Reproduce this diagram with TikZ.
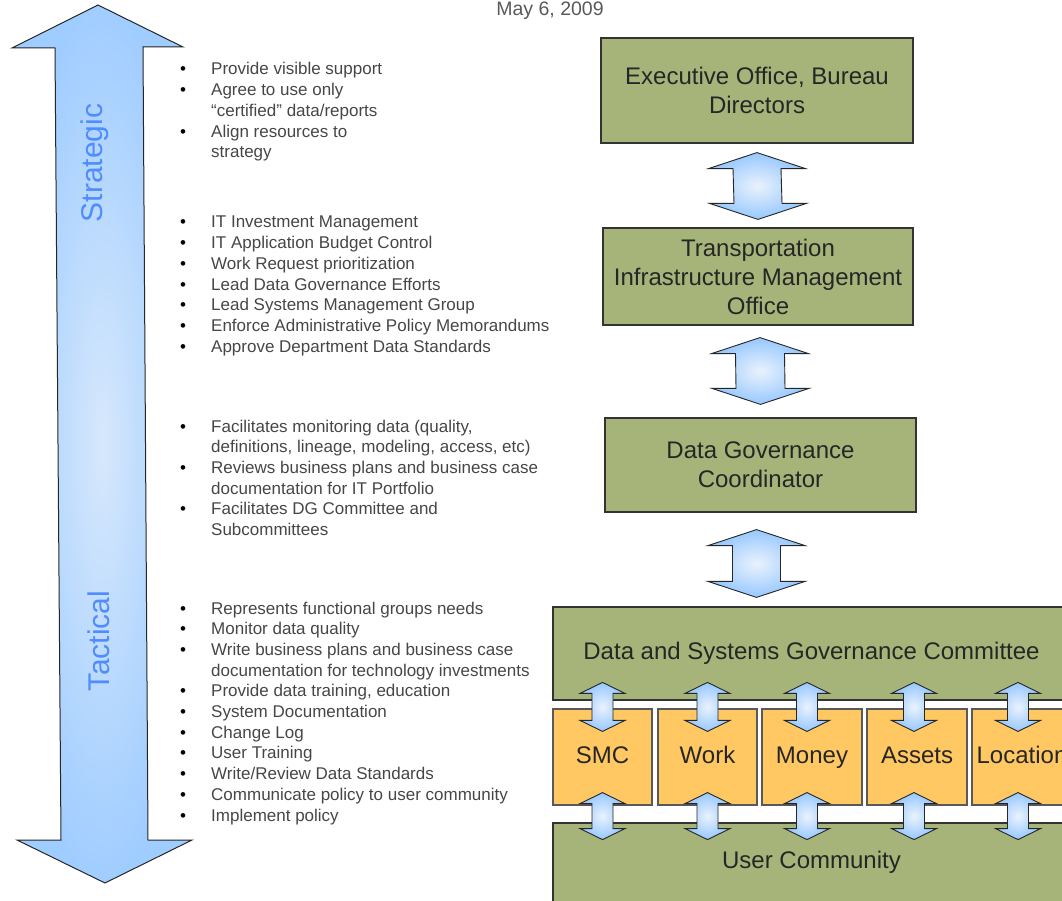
\documentclass[tikz,border=0pt]{standalone}
\usepackage{fontspec}
\setmainfont{Liberation Sans}
\usetikzlibrary{calc}
\definecolor{boxgreen}{RGB}{166,180,122}
\definecolor{boxorange}{RGB}{255,200,98}
\definecolor{arrowedge}{RGB}{150,200,255}
\definecolor{arrowmid}{RGB}{234,242,252}
\definecolor{bigedge}{RGB}{160,205,255}
\definecolor{bigmid}{RGB}{215,232,252}
\definecolor{labelblue}{RGB}{80,140,255}
\definecolor{listgray}{RGB}{70,70,70}
\tikzset{
  gbox/.style={draw=black!80, line width=1.2pt, fill=boxgreen, align=center, inner sep=0pt,
    font=\fontsize{24}{29}\selectfont, text=black!85},
  obox/.style={draw=black!65, line width=1.2pt, fill=boxorange, inner sep=0pt,
    text height=17pt, text depth=5pt,
    font=\fontsize{24}{29}\selectfont, text=black!85},
  dblarrowstyle/.style={draw=black!85, line width=0.9pt, line join=miter, inner color=arrowmid, outer color=arrowedge},
  bigarrowstyle/.style={draw=black!85, line width=1pt, inner color=bigmid, outer color=bigedge},
  listtext/.style={anchor=base west, inner sep=0pt, align=left, text=listgray,
    font=\fontsize{17}{20.7}\selectfont},
  sidelabel/.style={rotate=90, anchor=base, inner sep=0pt, text=labelblue, font=\fontsize{30}{36}\selectfont}
}
% #1 top point, #2 bottom point, #3 half head width, #4 half shaft width, #5 head length
\newcommand\dblarrow[5]{%
  \path[dblarrowstyle] let \p1=#1, \p2=#2 in
    (\x1,\y1) -- (\x1+#3pt,\y1-#5pt) -- (\x1+#4pt,\y1-#5pt) -- (\x2+#4pt,\y2+#5pt) --
    (\x2+#3pt,\y2+#5pt) -- (\x2,\y2) -- (\x2-#3pt,\y2+#5pt) -- (\x2-#4pt,\y2+#5pt) --
    (\x1-#4pt,\y1-#5pt) -- (\x1-#3pt,\y1-#5pt) -- cycle;}
\newcommand\bl{\makebox[31pt][l]{\textcolor{black}{•}}}
\begin{document}
\begin{tikzpicture}[x=1pt,y=-1pt]
\useasboundingbox (0,0) rectangle (1062,901);
\clip (0,0) rectangle (1062,901);

% date
\node[anchor=base, inner sep=0pt, text=black!65, font=\fontsize{19.5}{23}\selectfont] (date) at (550,16) {May 6, 2009};

% big strategic/tactical arrow
\path[bigarrowstyle] (98,5) -- (183,47) -- (143,47) -- (148,840) -- (192,840) -- (105,883)
  -- (17,840) -- (61,840) -- (55,48) -- (12,48) -- cycle;
\node[sidelabel] (strategic) at (102,163) {Strategic};
\node[sidelabel] (tactical) at (109,641) {Tactical};

% lists
\node[listtext] (list1) at (180,75) {\begin{tabular}[t]{@{}l@{}l@{}}
\bl & Provide visible support\\
\bl & Agree to use only\\
 & “certified” data/reports\\
\bl & Align resources to\\
 & strategy
\end{tabular}};
\node[listtext] (list2) at (180,228) {\begin{tabular}[t]{@{}l@{}l@{}}
\bl & IT Investment Management\\
\bl & IT Application Budget Control\\
\bl & Work Request prioritization\\
\bl & Lead Data Governance Efforts\\
\bl & Lead Systems Management Group\\
\bl & Enforce Administrative Policy Memorandums\\
\bl & Approve Department Data Standards
\end{tabular}};
\node[listtext] (list3) at (180,432) {\begin{tabular}[t]{@{}l@{}l@{}}
\bl & Facilitates monitoring data (quality,\\
 & definitions, lineage, modeling, access, etc)\\
\bl & Reviews business plans and business case\\
 & documentation for IT Portfolio\\
\bl & Facilitates DG Committee and\\
 & Subcommittees
\end{tabular}};
\node[listtext] (list4) at (180,614) {\begin{tabular}[t]{@{}l@{}l@{}}
\bl & Represents functional groups needs\\
\bl & Monitor data quality\\
\bl & Write business plans and business case\\
 & documentation for technology investments\\
\bl & Provide data training, education\\
\bl & System Documentation\\
\bl & Change Log\\
\bl & User Training\\
\bl & Write/Review Data Standards\\
\bl & Communicate policy to user community\\
\bl & Implement policy
\end{tabular}};

% main boxes
\node[gbox, minimum width=312, minimum height=105] (exec) at (757,90.5) {Executive Office, Bureau\\Directors};
\node[gbox, minimum width=310, minimum height=97] (timo) at (758,276.5) {Transportation\\Infrastructure Management\\Office};
\node[gbox, minimum width=311, minimum height=94] (dgc) at (760.5,465) {Data Governance\\Coordinator};
\node[gbox, minimum width=517, minimum height=93] (dsgc) at (811.5,653.5) {Data and Systems Governance Committee};
\node[gbox, minimum width=517, minimum height=79] (uc) at (811.5,862.5) {User Community};

% orange subcommittee boxes
\node[obox, minimum width=99, minimum height=96] (smc) at (602.5,757) {SMC};
\node[obox, minimum width=99, minimum height=96] (work) at (707.5,757) {Work};
\node[obox, minimum width=100, minimum height=96] (money) at (812,757) {Money};
\node[obox, minimum width=100, minimum height=96] (assets) at (917,757) {Assets};
\node[obox, minimum width=100, minimum height=96] (location) at (1022,757) {Location};

% arrows between main boxes
\dblarrow{($(exec.south)+(0,9)$)}{($(timo.north)+(0,-8)$)}{48.5}{24}{16}
\dblarrow{($(timo.south)+(2,12)$)}{($(dgc.north)+(0,-13)$)}{48.5}{24.5}{16}
\dblarrow{($(dgc.south)+(-4,17)$)}{($(dsgc.north)+(-55,-9)$)}{48.5}{24}{16}

% arrows to subcommittees
\foreach \b/\dx in {smc/0, work/0, money/-5, assets/-3, location/-4}{
  \dblarrow{($(\b.north)+(\dx,-26)$)}{($(\b.north)+(\dx,23)$)}{22.5}{10.5}{11}
  \dblarrow{($(\b.south)+(\dx,-13)$)}{($(\b.south)+(\dx,34)$)}{22.5}{10.5}{11}
}
\end{tikzpicture}
\end{document}
